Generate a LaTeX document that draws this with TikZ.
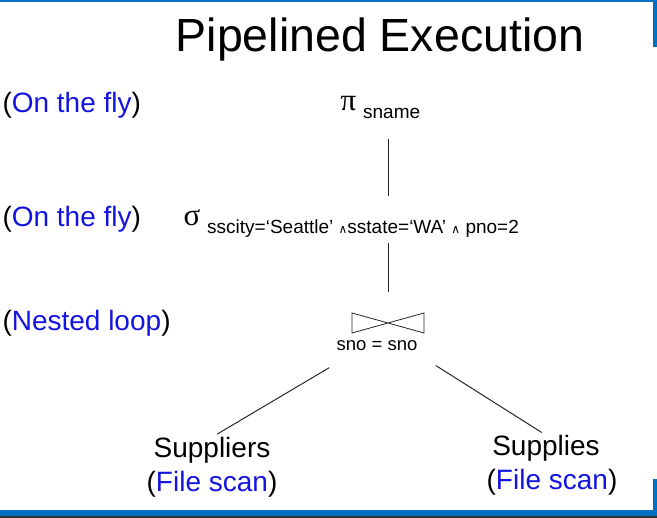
\documentclass[tikz,border=0pt]{standalone}
\usepackage{fontspec}
\setmainfont{Liberation Sans}
\newfontfamily\grk{Liberation Serif}
\newfontfamily\opfont{DejaVu Sans}
\usetikzlibrary{positioning}
\definecolor{slideblue}{RGB}{0,112,192}
\definecolor{howblue}{RGB}{20,20,225}
\newcommand{\how}[1]{(\textcolor{howblue}{#1})}
\newcommand{\andop}{{\opfont\fontsize{12}{12}\selectfont ∧}}
\newcommand{\opsub}[1]{\raisebox{-8pt}{\normalfont\fontsize{19}{21}\selectfont #1}}

\begin{document}
\begin{tikzpicture}[x=1pt,y=-1pt,line width=1pt,
  every node/.style={inner sep=0pt,font=\fontsize{28}{30}\selectfont},
  note/.style={anchor=base west},
  greek/.style={anchor=base west,font=\grk\fontsize{31}{31}\selectfont},
  small/.style={font=\fontsize{18.5}{20}\selectfont},
  edge/.style={draw=black!85}]
\useasboundingbox (0,0) rectangle (657,518);
% slide frame
\fill[slideblue] (0,0) rectangle (657,2.5);
\fill[slideblue] (653,0) rectangle (656.5,47);
\fill[slideblue] (653,479) rectangle (656.5,516.5);
\fill[slideblue] (0,510.5) rectangle (657,516.5);
\fill[black!80] (0,516.5) rectangle (657,518);

\node[anchor=base,font=\fontsize{46.5}{50}\selectfont] (title) at (380,52) {Pipelined Execution};

% how each operator runs
\node[note] (fly1) at (2,113) {\how{On the fly}};
\node[note] (fly2) at (2,227) {\how{On the fly}};
\node[note] (loop) at (2,331) {\how{Nested loop}};

% plan
\node[greek] (proj) at (340,111) {π\hspace{7pt}\opsub{sname}};
\node[greek] (sel) at (183,226) {σ\hspace{7pt}\opsub{sscity=‘Seattle’ \andop sstate=‘WA’ \andop{} pno=2}};
\coordinate (join) at (388,323);
\draw[edge,line width=0.8pt] (join) -- ++(-36,-10) -- ++(0,20) -- ++(72,-20) -- ++(0,20) -- cycle;
\node[small,anchor=base] (cond) at (377,351) {sno = sno};
\coordinate (fork) at (386,334);

\node[anchor=base] (supl) at (212,458) {Suppliers};
\node[below=6pt of supl] (scan1) {\how{File scan}};
\node[anchor=base] (supls) at (546,456) {Supplies};
\node[below=6pt of supls,xshift=6pt] (scan2) {\how{File scan}};

\draw[edge,shorten <=19pt,shorten >=14pt] (proj.south -| join) -- (sel.north -| join);
\draw[edge,shorten <=5pt,shorten >=31pt] (sel.south -| join) -- (join);
\draw[edge,shorten <=66pt,shorten >=6pt] (fork) -- (supl.north);
\draw[edge,shorten <=59pt,shorten >=5pt] (fork) -- (supls.north);
\end{tikzpicture}
\end{document}
